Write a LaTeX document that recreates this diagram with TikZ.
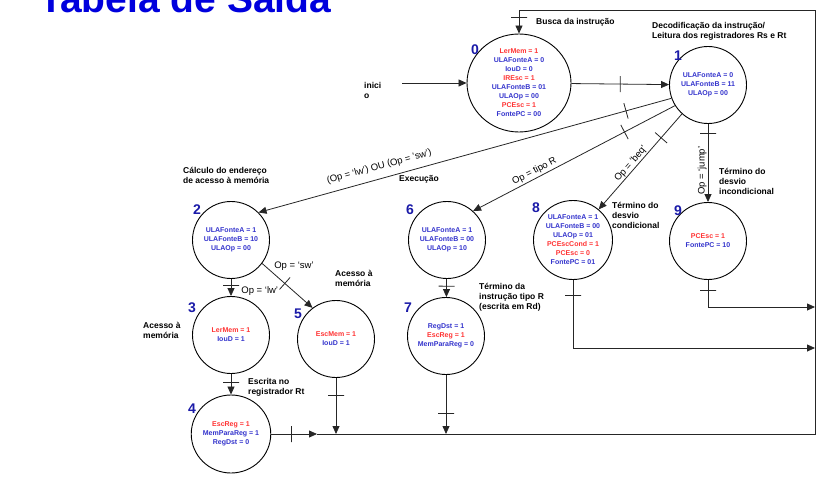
\documentclass[tikz,border=0pt]{standalone}
\usepackage{fontspec}
\setmainfont{Liberation Sans}
\usepackage{tikz}
\usetikzlibrary{positioning,calc,shapes.geometric,arrows.meta}
\definecolor{sigblue}{HTML}{3333CC}
\definecolor{sigred}{HTML}{FF3333}
\definecolor{numblue}{HTML}{1A1AA8}
\definecolor{titleblue}{HTML}{0000DD}
\definecolor{wiregray}{HTML}{262626}

\begin{document}
\begin{tikzpicture}[x=1pt, y=-1pt,
  >={Triangle[length=8pt,width=7pt]},
  state/.style={draw=black, line width=0.9pt, circle, minimum size=77pt, inner sep=0pt, font=\fontsize{7}{9}\selectfont\bfseries, text=sigblue, align=center},
  num/.style={font=\fontsize{14}{14}\selectfont\bfseries, text=numblue, inner sep=0pt},
  note/.style={font=\fontsize{8.5}{10}\selectfont\bfseries, align=left, anchor=north west, inner sep=0pt},
  lbl/.style={font=\fontsize{9.5}{11}\selectfont, inner sep=1pt, text=black},
  tick/.style={draw, sloped, minimum width=0pt, minimum height=16pt, inner sep=0pt, outer sep=0pt},
  wire/.style={line width=0.8pt, wiregray}
]
  \useasboundingbox (0,0) rectangle (838,481);
  \clip (0,0) rectangle (838,481);

  \node[font=\fontsize{39}{40}\selectfont\bfseries, text=titleblue, anchor=base west, inner sep=0pt] (title) at (39,13) {Tabela de Saída};

  \node[state, ellipse, minimum width=104pt, minimum height=98pt] (s0) at (519,83)
    {\textcolor{sigred}{LerMem = 1}\\ULAFonteA = 0\\IouD = 0\\\textcolor{sigred}{IREsc = 1}\\ULAFonteB = 01\\ULAOp = 00\\\textcolor{sigred}{PCEsc = 1}\\FontePC = 00};
  \node[state] (s1) at (708,85) {ULAFonteA = 0\\ULAFonteB = 11\\ULAOp = 00};
  \node[state] (s2) at (231,240) {ULAFonteA = 1\\ULAFonteB = 10\\ULAOp = 00};
  \node[state] (s6) at (447,240) {ULAFonteA = 1\\ULAFonteB = 00\\ULAOp = 10};
  \node[state, minimum size=79pt] (s8) at (573,240)
    {ULAFonteA = 1\\ULAFonteB = 00\\ULAOp = 01\\\textcolor{sigred}{PCEscCond = 1}\\\textcolor{sigred}{PCEsc = 0}\\FontePC = 01};
  \node[state] (s9) at (708,241) {\textcolor{sigred}{PCEsc = 1}\\FontePC = 10};
  \node[state] (s3) at (231,335) {\textcolor{sigred}{LerMem = 1}\\IouD = 1};
  \node[state] (s5) at (336,339) {\textcolor{sigred}{EscMem = 1}\\IouD = 1};
  \node[state] (s7) at (446,336) {RegDst = 1\\\textcolor{sigred}{EscReg = 1}\\MemParaReg = 0};
  \node[state, ellipse, minimum width=76pt, minimum height=78pt] (s4) at (231,434)
    {\textcolor{sigred}{EscReg = 1}\\MemParaReg = 1\\RegDst = 0};

  \node[num] (n0) at ($(s0)+(-44,-33)$) {0};
  \node[num] (n1) at ($(s1)+(-30,-29)$) {1};
  \node[num] (n2) at ($(s2)+(-34,-30)$) {2};
  \node[num] (n3) at ($(s3)+(-39,-27)$) {3};
  \node[num] (n4) at ($(s4)+(-39,-25)$) {4};
  \node[num] (n5) at ($(s5)+(-38,-25)$) {5};
  \node[num] (n6) at ($(s6)+(-37,-30)$) {6};
  \node[num] (n7) at ($(s7)+(-38,-28)$) {7};
  \node[num] (n8) at ($(s8)+(-37,-32)$) {8};
  \node[num] (n9) at ($(s9)+(-30,-30)$) {9};

  \node[note] (fetch) at (536,18) {Busca da instrução};
  \node[note] (decode) at (652,22) {Decodificação da instrução/\\Leitura dos registradores Rs e Rt};
  \node[note] (addr) at (183,167) {Cálculo do endereço\\de acesso à memória};
  \node[note] (exec) at (399,175) {Execução};
  \node[note] (jmpend) at (719,168) {Término do\\desvio\\incondicional};
  \node[note] (beqend) at (612,202) {Término do\\desvio\\condicional};
  \node[note] (mem5) at (335,270) {Acesso à\\memória};
  \node[note] (rend) at (479,283) {Término da\\instrução tipo R\\(escrita em Rd)};
  \node[note] (mem3) at (143,322) {Acesso à\\memória};
  \node[note] (wrt) at (248,378) {Escrita no\\registrador Rt};
  \node[note] (ini) at (364,82) {inici\\o};

  \coordinate (start) at (402,83);
  \coordinate (j4) at (317,434);
  \coordinate (j5) at (336,434);
  \coordinate (j7) at (446,434);
  \coordinate (e8) at (815,348);
  \coordinate (e9) at (815,307);
  \coordinate (c1) at (815,434);
  \coordinate (c2) at (815,10);
  \coordinate (c3) at (519,10);

  \draw[->, wire] (start) -- (s0);
  \draw[->, wire] (s0) -- node[tick]{} (s1);
  \draw[->, wire] (s1.200) -- node[tick, pos=0.11]{}
    node[lbl, pos=0.7, sloped, above=6pt] {(Op = ‘lw’) OU (Op = ‘sw’)} (s2.45);
  \draw[->, wire] (s1.212) -- node[tick, pos=0.25]{}
    node[lbl, pos=0.68, sloped, above=1pt] {Op = tipo R} (s6.48);
  \draw[->, wire] (s1.228) -- node[tick, pos=0.25]{}
    node[lbl, pos=0.56, sloped, above=0pt] {Op = ‘beq’} (s8.50);
  \draw[->, wire] (s1) -- node[tick, pos=0.12]{}
    node[lbl, pos=0.6, rotate=90, anchor=south] {Op = ‘jump’} (s9);
  \draw[->, wire] (s2) -- node[tick, pos=0.36]{}
    node[lbl, pos=0.7, right=9pt] {Op = ‘lw’} (s3);
  \draw[->, wire] (s2.-37) -- node[tick, pos=0.45]{}
    node[lbl, pos=0.2, above right=1pt] {Op = ‘sw’} (s5.127);
  \draw[->, wire] (s6) -- node[tick, pos=0.4]{} (s7);
  \draw[->, wire] (s3) -- node[tick, pos=0.4]{} (s4);
  \draw[->, wire] (s4) -- node[tick, pos=0.44]{} (j4);
  \draw[->, wire] (s5) -- node[tick, pos=0.32]{} (j5);
  \draw[->, wire] (s7) -- node[tick, pos=0.65]{} (j7);
  \draw[->, wire] (s8) |- node[tick, pos=0.11]{} (e8);
  \draw[->, wire] (s9) |- node[tick, pos=0.19]{} (e9);
  \draw[->, wire] (j4) -- (c1) -- (c2) -- (c3) -- node[tick, pos=0.3]{} (s0);
\end{tikzpicture}
\end{document}
